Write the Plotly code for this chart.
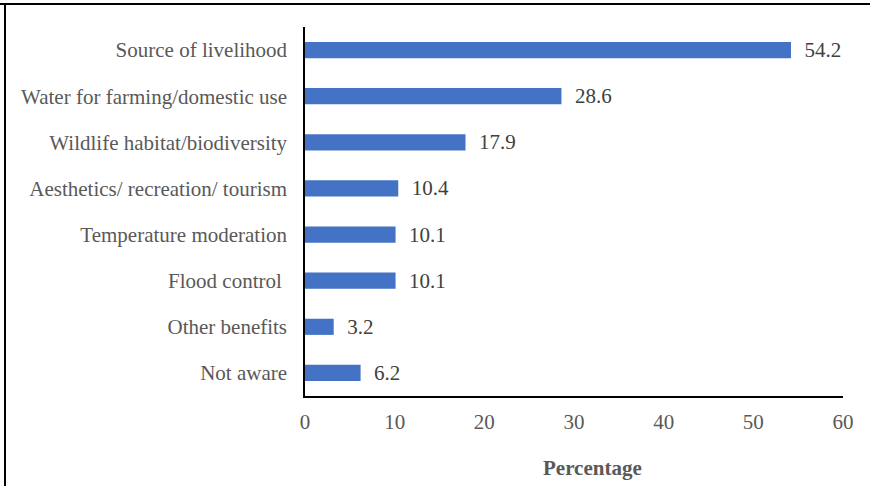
import plotly.graph_objects as go

categories = ["Source of livelihood", "Water for farming/domestic use", "Wildlife habitat/biodiversity",
              "Aesthetics/ recreation/ tourism", "Temperature moderation", "Flood control ",
              "Other benefits", "Not aware"]
values = [54.2, 28.6, 17.9, 10.4, 10.1, 10.1, 3.2, 6.2]
x_ticks = [0, 10, 20, 30, 40, 50, 60]

font_family = "Liberation Serif, Times New Roman, serif"

fig = go.Figure(go.Bar(
    x=values, y=categories, orientation="h",
    marker=dict(color="#4472C4", line=dict(width=0)),
    width=0.35,
    text=[f"{v:.1f}" for v in values],
    texttemplate="  %{text}",
    textposition="outside",
    constraintext="none",
    cliponaxis=False,
    textfont=dict(family=font_family, size=21, color="#404040"),
))

fig.update_layout(
    width=870, height=486,
    margin=dict(l=305, r=27, t=27, b=90),
    paper_bgcolor="white", plot_bgcolor="white",
    showlegend=False,
    font=dict(family=font_family, size=21, color="#595959"),
    xaxis=dict(range=[0, 60], tickvals=x_ticks, showgrid=False, zeroline=False,
               showline=True, linecolor="black", linewidth=1.5,
               ticks="", ticklabelstandoff=6, tickfont=dict(size=21, color="#595959")),
    yaxis=dict(autorange="reversed", showgrid=False, zeroline=False,
               showline=True, linecolor="black", linewidth=1.5,
               ticks="", ticklabelstandoff=12,
               tickfont=dict(size=21, color="#595959")),
    annotations=[dict(text="<b>Percentage</b>", xref="paper", yref="paper",
                      x=(592 - 305) / (843 - 305), y=-72/369, showarrow=False,
                      xanchor="center", yanchor="middle",
                      font=dict(family=font_family, size=21, color="#595959"))],
    shapes=[
        dict(type="line", xref="paper", yref="paper", x0=-305/538, x1=1 + 27/538,
             y0=1 + 23/369, y1=1 + 23/369, line=dict(color="black", width=2)),
        dict(type="line", xref="paper", yref="paper", x0=-300/538, x1=-300/538,
             y0=1 + 23/369, y1=-90/369, line=dict(color="black", width=2)),
    ],
)

fig.write_html("out.html")
